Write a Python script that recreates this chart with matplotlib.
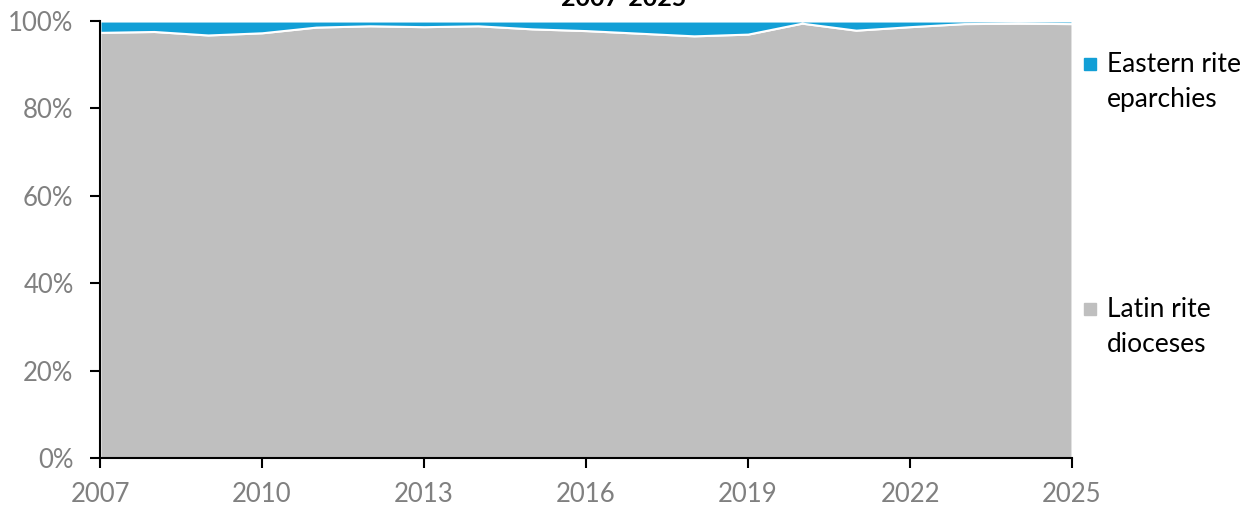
import matplotlib
matplotlib.use("Agg")
import matplotlib.pyplot as plt
from matplotlib.patches import Rectangle
from matplotlib.ticker import FuncFormatter

plt.rcParams["font.family"] = ["Lato", "DejaVu Sans"]

years = list(range(2007, 2026))
latin = [97.4, 97.6, 96.8, 97.3, 98.6, 98.9, 98.7, 98.9, 98.2, 97.8,
         97.2, 96.6, 97.0, 99.5, 97.9, 98.7, 99.4, 99.5, 99.4]
eastern = [2.6, 2.4, 3.2, 2.7, 1.4, 1.1, 1.3, 1.1, 1.8, 2.2,
           2.8, 3.4, 3.0, 0.5, 2.1, 1.3, 0.6, 0.5, 0.6]
labels = ["Latin rite\ndioceses", "Eastern rite\neparchies"]
colors = ["#bfbfbf", "#129fd6"]

W, H = 1256, 507
fig = plt.figure(figsize=(W / 100, H / 100), dpi=100)
ax = fig.add_axes([100 / W, 1 - 458 / H, 972 / W, 437 / H])

ax.stackplot(years, latin, eastern, colors=colors, edgecolor="white", linewidth=1.5)

ax.set_xlim(2007, 2025)
ax.set_ylim(0, 100)
ax.set_xticks(range(2007, 2026, 3))
ax.set_yticks(range(0, 101, 20))
ax.yaxis.set_major_formatter(FuncFormatter(lambda v, p: f"{v:.0f}%"))
ax.tick_params(axis="both", direction="out", length=7, width=1.5, color="black",
               labelcolor="#808080", labelsize=18.5)
ax.tick_params(axis="x", pad=10)
ax.tick_params(axis="y", pad=12)
for s in ["top", "right"]:
    ax.spines[s].set_visible(False)
for s in ["left", "bottom"]:
    ax.spines[s].set_linewidth(1.5)
    ax.spines[s].set_color("black")

# title (partly cut off at the top in the original)
fig.text(624 / W, 1 - 6 / H, "2007-2025", ha="center", va="baseline",
         fontsize=18, fontweight="bold")

# legend drawn by hand, right of the plot
legend_rows = [(labels[1], colors[1], 64), (labels[0], colors[0], 309)]
for text, col, yc in legend_rows:
    fig.add_artist(Rectangle((1084 / W, 1 - (yc + 6) / H), 12 / W, 12 / H,
                             transform=fig.transFigure, color=col))
    first, second = text.split("\n")
    fig.text(1107 / W, 1 - (yc + 8) / H, first, ha="left", va="baseline", fontsize=19)
    fig.text(1107 / W, 1 - (yc + 43) / H, second, ha="left", va="baseline", fontsize=19)

fig.savefig("out.png", dpi=100)
